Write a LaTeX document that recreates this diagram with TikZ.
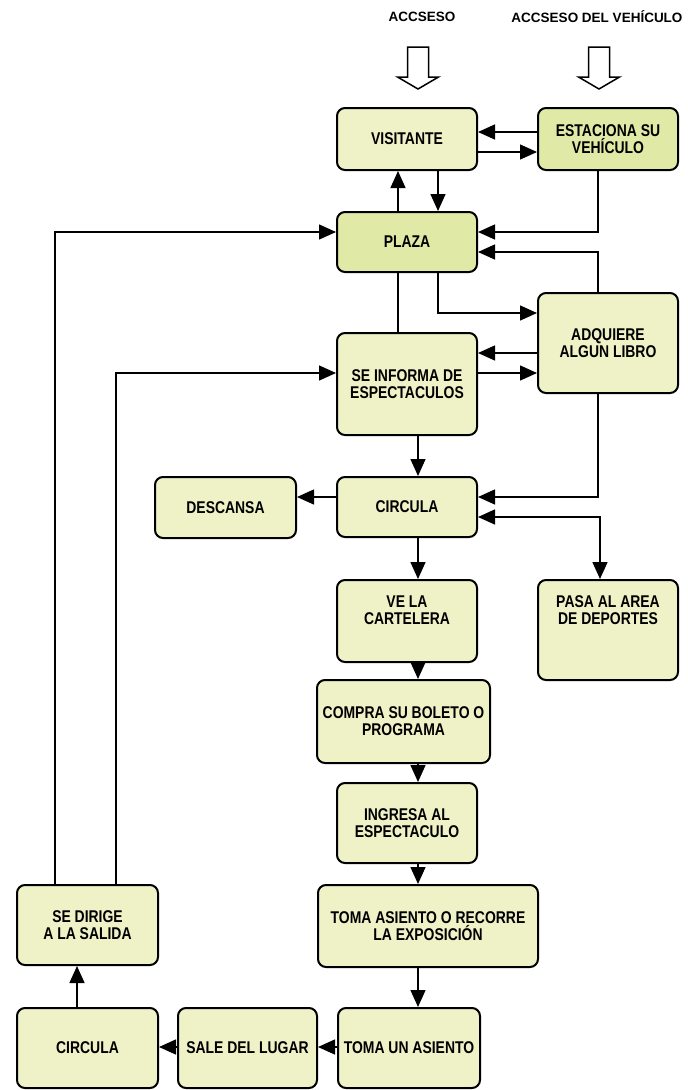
\documentclass[tikz,border=0pt]{standalone}
\usepackage{fontspec}
\setmainfont{Liberation Sans}
\newfontfamily\cajafont[FakeStretch=0.82]{Liberation Sans}
\usetikzlibrary{arrows.meta}
\definecolor{cajaverde}{RGB}{238,242,198}
\definecolor{plazaverde}{RGB}{224,234,166}
\newcommand{\caja}[7][]{\node[caja,#1,minimum width=#5pt,minimum height=#6pt] (#2) at (#3,#4) {#7};}
\newcommand{\titulo}[4]{\node[titulo] (#1) at (#2,#3) {#4};}
\newcommand{\flechahueca}[1]{\draw[line width=1.5pt,fill=white,shift={(#1,0)}] (-10.5,47) -- (10.5,47) -- (10.5,77) -- (20.5,77) -- (0,89) -- (-20.5,77) -- (-10.5,77) -- cycle;}
\newcommand{\subetxt}[2]{\raisebox{#1}[0pt][0pt]{\begin{tabular}{@{}c@{}}#2\end{tabular}}}

\begin{document}
\begin{tikzpicture}[x=1pt,y=-1pt,
    caja/.style={draw,line width=2pt,rounded corners=8pt,fill=cajaverde,align=center,inner sep=0pt,
      font=\cajafont\bfseries\fontsize{17}{17}\selectfont},
    titulo/.style={inner sep=0pt,font=\bfseries\fontsize{13.5}{15}\selectfont},
    flecha/.style={line width=1.4pt,-{Triangle[length=17pt,width=15pt]}},
    flechados/.style={line width=1.4pt,{Triangle[length=17pt,width=15pt]}-{Triangle[length=17pt,width=15pt]}},
    linea/.style={line width=1.4pt}]
    \useasboundingbox (0,0) rectangle (688,1090);
                % accesos
                \titulo{acceso}{422}{17}{ACCSESO}
                \titulo{accesoveh}{597}{17}{ACCSESO DEL VEHÍCULO}
                \flechahueca{418}
                \flechahueca{599}
                % row1
                \caja{visitante}{407}{139}{140}{62}{VISITANTE}
                \caja[fill=plazaverde]{estaciona}{608}{139}{140}{62}{ESTACIONA SU\\VEHÍCULO}
                % row2
                \caja[fill=plazaverde]{plaza}{407}{242}{140}{60}{PLAZA}
                \caja{adquiere}{608}{343}{140}{100}{ADQUIERE\\ALGUN LIBRO}
                \caja{informa}{407}{384}{140}{102}{SE INFORMA DE\\ESPECTACULOS}
                % row3
                \caja{descansa}{225.5}{507.5}{141}{61}{DESCANSA}
                \caja{circula}{407}{507}{140}{60}{CIRCULA}
                \caja{pasa}{608}{630}{140}{100}{\subetxt{13pt}{PASA AL AREA\\DE DEPORTES}}
                % column
                \caja{vela}{407}{621}{140}{82}{\subetxt{4pt}{VE LA\\CARTELERA}}
                \caja{compra}{403.5}{721.5}{173}{83}{COMPRA SU BOLETO O\\PROGRAMA}
                \caja{ingresa}{407}{823}{140}{80}{INGRESA AL\\ESPECTACULO}
                \caja{recorre}{428}{926}{220}{82}{TOMA ASIENTO O RECORRE\\LA EXPOSICIÓN}
                % bottom row
                \caja{tomaun}{409}{1048}{142}{80}{TOMA UN ASIENTO}
                \caja{sale}{247.5}{1048}{139}{80}{SALE DEL LUGAR}
                \caja{circulab}{87.5}{1048}{141}{80}{CIRCULA}
                \caja{dirige}{87.5}{925}{141}{80}{SE DIRIGE\\A LA SALIDA}
                % arrows top
                \draw[flecha] (estaciona.west |- 0,132) -- (visitante.east |- 0,132);
                \draw[flecha] (visitante.east |- 0,152) -- (estaciona.west |- 0,152);
                \draw[flecha] (plaza.north -| 398,0) -- (visitante.south -| 398,0);
                \draw[flecha] (visitante.south -| 438,0) -- (plaza.north -| 438,0);
                \draw[flecha] (estaciona.south -| 598,0) |- (plaza.east |- 0,232);
                \draw[flecha] (adquiere.north -| 598,0) |- (plaza.east |- 0,252);
                % arrows middle
                \draw[flecha] (plaza.south -| 438,0) |- (adquiere.west |- 0,313);
                \draw[linea] (plaza.south -| 398,0) -- (informa.north -| 398,0);
                \draw[flecha] (adquiere.west |- 0,353) -- (informa.east |- 0,353);
                \draw[flecha] (informa.east |- 0,373) -- (adquiere.west |- 0,373);
                \draw[flecha] (informa.south -| 418,0) -- (circula.north -| 418,0);
                \draw[flecha] (adquiere.south -| 598,0) |- (circula.east |- 0,497);
                \draw[flecha] (circula.west |- 0,497) -- (descansa.east |- 0,497);
                \draw[flechados] (circula.east |- 0,517) -| (pasa.north -| 600,0);
                % arrows down the column
                \draw[flecha] (circula.south -| 418,0) -- (vela.north -| 418,0);
                \draw[flecha] (vela.south -| 418,0) -- (compra.north -| 418,0);
                \draw[flecha] (compra.south -| 418,0) -- (ingresa.north -| 418,0);
                \draw[flecha] (ingresa.south -| 418,0) -- (recorre.north -| 418,0);
                \draw[flecha] (recorre.south -| 418,0) -- (tomaun.north -| 418,0);
                % arrows back to the exit
                \draw[flecha] (tomaun.west |- 0,1047) -- (sale.east |- 0,1047);
                \draw[flecha] (sale.west |- 0,1047) -- (circulab.east |- 0,1047);
                \draw[flecha] (circulab.north -| 77,0) -- (dirige.south -| 77,0);
                \draw[flecha] (dirige.north -| 55,0) |- (plaza.west |- 0,232);
                \draw[flecha] (dirige.north -| 116,0) |- (informa.west |- 0,373);
\end{tikzpicture}
\end{document}
